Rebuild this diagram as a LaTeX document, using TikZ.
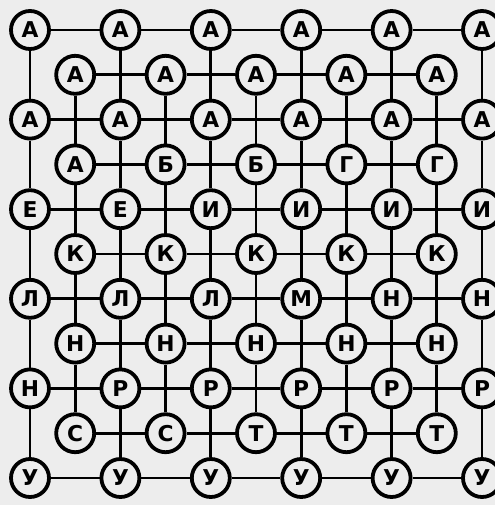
\documentclass[tikz,border=0pt]{standalone}
\usepackage{fontspec}
\setmainfont{DejaVu Sans}
\usepackage{tikz}
\definecolor{paper}{gray}{0.93}
\tikzstyle{letter} = [circle, draw=black, line width=1.9mm, fill=paper, minimum size=1.9cm, inner sep=0pt, font=\fontsize{31}{34}\selectfont\bfseries]
\tikzstyle{link} = [line width=1.45mm]

\begin{document}
\begin{tikzpicture}[x=0.05cm, y=-0.05cm]
  \fill[paper] (0,0) rectangle (495,505);
  \useasboundingbox (0,0) rectangle (495,505);

  % letters, row by row
  \foreach \r/\row in {0/{А,А,А,А,А,А}, 1/{А,А,А,А,А}, 2/{А,А,А,А,А,А}, 3/{А,Б,Б,Г,Г},
                       4/{Е,Е,И,И,И,И}, 5/{К,К,К,К,К}, 6/{Л,Л,Л,М,Н,Н}, 7/{Н,Н,Н,Н,Н},
                       8/{Н,Р,Р,Р,Р,Р}, 9/{С,С,Т,Т,Т}, 10/{У,У,У,У,У,У}}
    \foreach \t [count=\i from 0] in \row {
      \pgfmathtruncatemacro{\c}{2*\i+mod(\r,2)}
      \node[letter] (n\r-\c) at ({30+45.2*\c},{30+44.8*\r}) {\t};
    }

  % outer grid
  \foreach \r in {0,2,...,10}
    \foreach \c in {0,2,...,8} {
      \pgfmathtruncatemacro{\d}{\c+2}
      \draw[link] (n\r-\c) -- (n\r-\d);
      \draw[link] (n\c-\r) -- (n\d-\r);
    }
  % inner grid
  \foreach \r in {1,3,...,9}
    \foreach \c in {1,3,5,7} {
      \pgfmathtruncatemacro{\d}{\c+2}
      \draw[link] (n\r-\c) -- (n\r-\d);
      \draw[link] (n\c-\r) -- (n\d-\r);
    }
\end{tikzpicture}
\end{document}
